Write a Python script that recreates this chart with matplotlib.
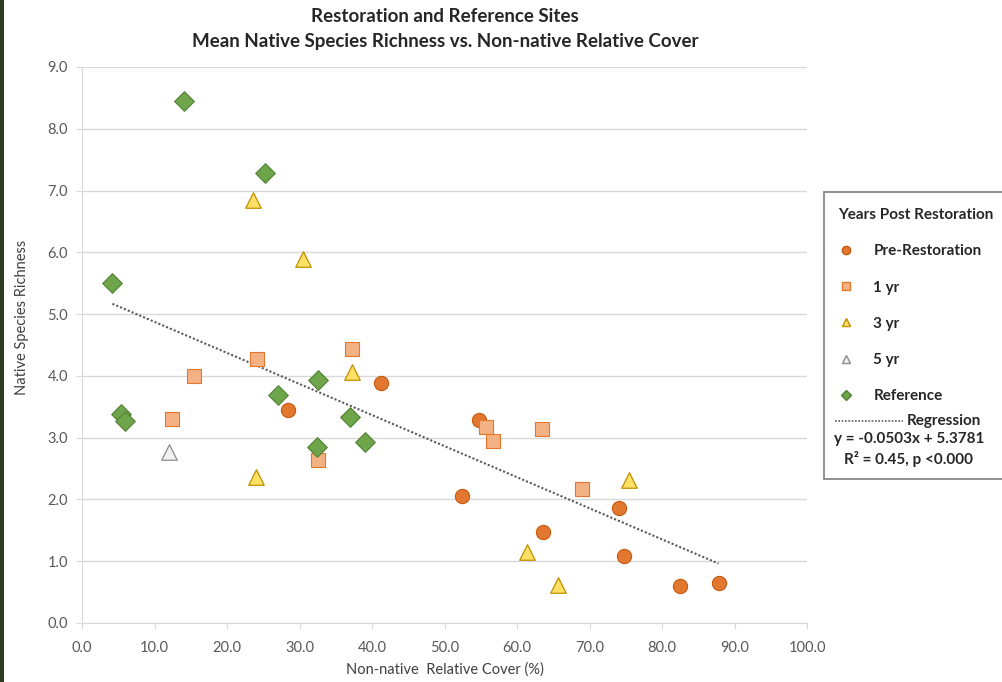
import matplotlib
matplotlib.use("Agg")
import matplotlib.pyplot as plt
from matplotlib.lines import Line2D
from matplotlib.patches import Rectangle

plt.rcParams['font.family'] = ['Lato', 'DejaVu Sans']

# cover (%) / richness per site group
pre_x = [28.4, 41.2, 54.8, 52.4, 63.6, 74.1, 74.8, 82.5, 87.8]
pre_y = [3.44, 3.88, 3.28, 2.06, 1.47, 1.86, 1.09, 0.60, 0.64]

yr1_x = [12.4, 15.5, 24.1, 32.6, 37.3, 55.7, 56.7, 63.5, 69.0]
yr1_y = [3.30, 4.00, 4.27, 2.64, 4.43, 3.18, 2.94, 3.14, 2.17]

yr3_x = [23.6, 30.5, 24.0, 37.3, 61.4, 65.7, 75.4]
yr3_y = [6.85, 5.90, 2.37, 4.07, 1.15, 0.62, 2.31]

yr5_x = [12.0]
yr5_y = [2.77]

ref_x = [14.0, 25.3, 4.2, 5.4, 5.9, 27.1, 32.6, 32.4, 36.9, 39.0]
ref_y = [8.45, 7.28, 5.50, 3.38, 3.27, 3.69, 3.94, 2.85, 3.33, 2.93]

slope, intercept = -0.0503, 5.3781
reg_x = [4.2, 87.8]

fig = plt.figure(figsize=(10.02, 6.82), dpi=100)
ax = fig.add_axes([82/1002, 1-623/682, 725/1002, 556/682])

ax.scatter(pre_x, pre_y, s=105, marker='o', color='#E2772F', edgecolor='#C55A11', linewidth=0.8, zorder=3)
ax.scatter(yr1_x, yr1_y, s=105, marker='s', color='#F4B183', edgecolor='#E2772F', linewidth=0.8, zorder=3)
ax.scatter(yr3_x, yr3_y, s=125, marker='^', color='#FFE066', edgecolor='#BF9000', linewidth=0.9, zorder=3)
ax.scatter(yr5_x, yr5_y, s=125, marker='^', color='#F2F2F2', edgecolor='#8C8C8C', linewidth=0.9, zorder=3)
ax.scatter(ref_x, ref_y, s=100, marker='D', color='#6FA54A', edgecolor='#548235', linewidth=0.8, zorder=3)

reg_y = [slope * v + intercept for v in reg_x]
ax.plot(reg_x, reg_y, color='#595959', linestyle=(0, (1, 1)), linewidth=1.5, zorder=2)

ax.set_xlim(0, 100)
ax.set_ylim(0, 9)
ax.set_xticks(range(0, 101, 10))
ax.set_xticklabels(['%.1f' % v for v in range(0, 101, 10)])
ax.set_yticks(range(0, 10))
ax.set_yticklabels(['%.1f' % v for v in range(0, 10)])
ax.grid(axis='y', color='#D9D9D9', linewidth=1)
ax.set_axisbelow(True)
for s in ['top', 'right']:
    ax.spines[s].set_visible(False)
for s in ['left', 'bottom']:
    ax.spines[s].set_color('#D9D9D9')
ax.tick_params(axis='both', colors='#D9D9D9', labelcolor='#595959', labelsize=10.5, length=4)
ax.tick_params(axis='x', pad=9)
ax.tick_params(axis='y', pad=6)

ax.set_xlabel('Non-native  Relative Cover (%)', fontsize=10.5, color='#404040')
ax.xaxis.set_label_coords((445-82)/725, -(662-623)/556)
ax.set_ylabel('Native Species Richness', fontsize=10.5, color='#404040')
ax.yaxis.set_label_coords(-(82-29)/725, (623-317)/556)

fig.text(445/1002, 1-16/682, 'Restoration and Reference Sites', ha='center', va='center',
         fontsize=13.5, fontweight='bold', color='#262626')
fig.text(445/1002, 1-42/682, 'Mean Native Species Richness vs. Non-native Relative Cover', ha='center', va='center',
         fontsize=13.5, fontweight='bold', color='#262626')

# legend box
fig.patches.append(Rectangle((824/1002, 1-479/682), 180/1002, 287/682, transform=fig.transFigure,
                             facecolor='white', edgecolor='#7F7F7F', linewidth=1.2))
handles = [
    Line2D([], [], marker='o', linestyle='', markersize=6, color='#E2772F', markeredgecolor='#C55A11'),
    Line2D([], [], marker='s', linestyle='', markersize=6, color='#F4B183', markeredgecolor='#E2772F'),
    Line2D([], [], marker='^', linestyle='', markersize=6, color='#FFE066', markeredgecolor='#BF9000'),
    Line2D([], [], marker='^', linestyle='', markersize=6, color='#F2F2F2', markeredgecolor='#8C8C8C'),
    Line2D([], [], marker='D', linestyle='', markersize=5.5, color='#6FA54A', markeredgecolor='#548235'),
]
labels = ['Pre-Restoration', '1 yr', '3 yr', '5 yr', 'Reference']
leg = fig.legend(handles, labels, loc='upper left', bbox_to_anchor=(826/1002, 1-196/682),
                 frameon=False, prop={'size': 11, 'weight': 'bold'}, labelspacing=1.45,
                 handlelength=1.0, handletextpad=1.3, borderpad=0.3, title='Years Post Restoration',
                 title_fontproperties={'size': 11, 'weight': 'bold'})
leg._legend_box.align = 'left'
leg._legend_box.sep = 16
for t in leg.get_texts():
    t.set_color('#262626')
leg.get_title().set_color('#262626')

fig.lines.append(Line2D([835/1002, 903/1002], [1-421/682, 1-421/682], transform=fig.transFigure,
                        color='#595959', linestyle=(0, (1, 1)), linewidth=1.2))
fig.text(907/1002, 1-421/682, 'Regression', va='center', fontsize=11, fontweight='bold', color='#262626')
fig.text(909/1002, 1-439/682, 'y = -0.0503x + 5.3781', ha='center', va='center', fontsize=11,
         fontweight='bold', color='#262626')
fig.text(909/1002, 1-459/682, 'R² = 0.45, p <0.000', ha='center', va='center', fontsize=11,
         fontweight='bold', color='#262626')

# dark strip at left edge
fig.patches.append(Rectangle((0, 0), 4/1002, 1, transform=fig.transFigure, facecolor='#2E3B1F', edgecolor='none'))

fig.savefig('out.png', dpi=100)
